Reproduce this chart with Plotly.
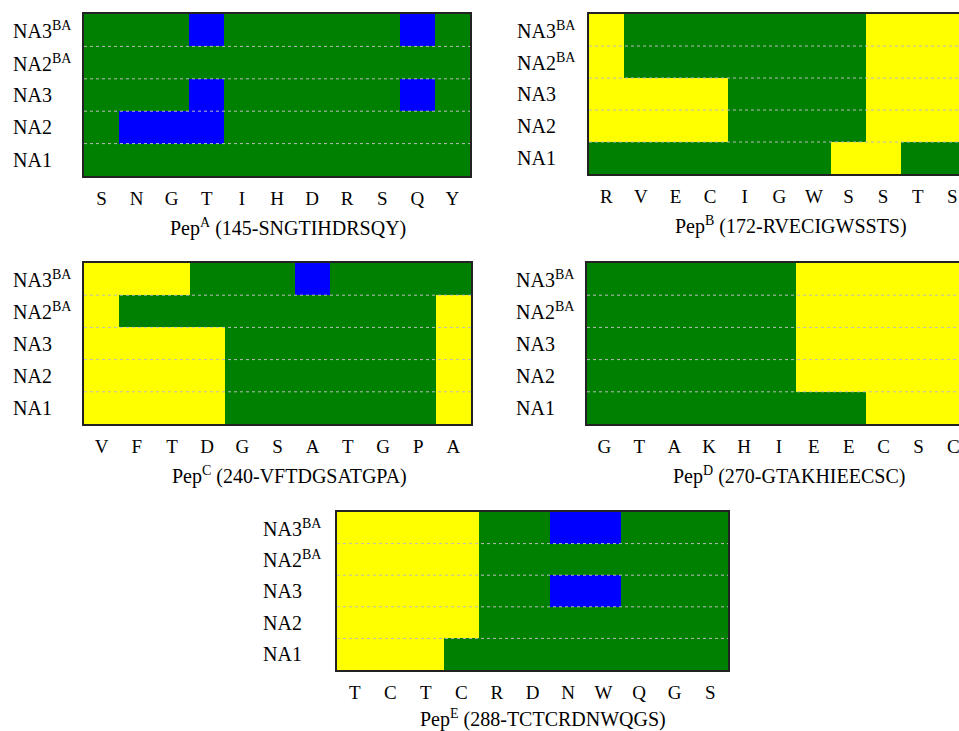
import plotly.graph_objects as go

# ---------------- data ----------------
rows = ["NA1", "NA2", "NA3", "NA2<sup>BA</sup>", "NA3<sup>BA</sup>"]
# codes: 0 = green, 1 = yellow, 2 = blue

pepA_title = "Pep<sup>A</sup> (145-SNGTIHDRSQY)"
pepA_res = ["S", "N", "G", "T", "I", "H", "D", "R", "S", "Q", "Y"]
pepA_NA1 = [0, 0, 0, 0, 0, 0, 0, 0, 0, 0, 0]
pepA_NA2 = [0, 2, 2, 2, 0, 0, 0, 0, 0, 0, 0]
pepA_NA3 = [0, 0, 0, 2, 0, 0, 0, 0, 0, 2, 0]
pepA_NA2BA = [0, 0, 0, 0, 0, 0, 0, 0, 0, 0, 0]
pepA_NA3BA = [0, 0, 0, 2, 0, 0, 0, 0, 0, 2, 0]

pepB_title = "Pep<sup>B</sup> (172-RVECIGWSSTS)"
pepB_res = ["R", "V", "E", "C", "I", "G", "W", "S", "S", "T", "S"]
pepB_NA1 = [0, 0, 0, 0, 0, 0, 0, 1, 1, 0, 0]
pepB_NA2 = [1, 1, 1, 1, 0, 0, 0, 0, 1, 1, 1]
pepB_NA3 = [1, 1, 1, 1, 0, 0, 0, 0, 1, 1, 1]
pepB_NA2BA = [1, 0, 0, 0, 0, 0, 0, 0, 1, 1, 1]
pepB_NA3BA = [1, 0, 0, 0, 0, 0, 0, 0, 1, 1, 1]

pepC_title = "Pep<sup>C</sup> (240-VFTDGSATGPA)"
pepC_res = ["V", "F", "T", "D", "G", "S", "A", "T", "G", "P", "A"]
pepC_NA1 = [1, 1, 1, 1, 0, 0, 0, 0, 0, 0, 1]
pepC_NA2 = [1, 1, 1, 1, 0, 0, 0, 0, 0, 0, 1]
pepC_NA3 = [1, 1, 1, 1, 0, 0, 0, 0, 0, 0, 1]
pepC_NA2BA = [1, 0, 0, 0, 0, 0, 0, 0, 0, 0, 1]
pepC_NA3BA = [1, 1, 1, 0, 0, 0, 2, 0, 0, 0, 0]

pepD_title = "Pep<sup>D</sup> (270-GTAKHIEECSC)"
pepD_res = ["G", "T", "A", "K", "H", "I", "E", "E", "C", "S", "C"]
pepD_NA1 = [0, 0, 0, 0, 0, 0, 0, 0, 1, 1, 1]
pepD_NA2 = [0, 0, 0, 0, 0, 0, 1, 1, 1, 1, 1]
pepD_NA3 = [0, 0, 0, 0, 0, 0, 1, 1, 1, 1, 1]
pepD_NA2BA = [0, 0, 0, 0, 0, 0, 1, 1, 1, 1, 1]
pepD_NA3BA = [0, 0, 0, 0, 0, 0, 1, 1, 1, 1, 1]

pepE_title = "Pep<sup>E</sup> (288-TCTCRDNWQGS)"
pepE_res = ["T", "C", "T", "C", "R", "D", "N", "W", "Q", "G", "S"]
pepE_NA1 = [1, 1, 1, 0, 0, 0, 0, 0, 0, 0, 0]
pepE_NA2 = [1, 1, 1, 1, 0, 0, 0, 0, 0, 0, 0]
pepE_NA3 = [1, 1, 1, 1, 0, 0, 2, 2, 0, 0, 0]
pepE_NA2BA = [1, 1, 1, 1, 0, 0, 0, 0, 0, 0, 0]
pepE_NA3BA = [1, 1, 1, 1, 0, 0, 2, 2, 0, 0, 0]

GREEN, YELLOW, BLUE = "#008000", "#FFFF00", "#0000FF"
FONT = "Liberation Serif, Times New Roman, serif"
W, H = 959, 731

# panel layout in pixels
panels = [
    dict(title=pepA_title, res=pepA_res,
         z=[pepA_NA1, pepA_NA2, pepA_NA3, pepA_NA2BA, pepA_NA3BA],
         l=84, r=470, t=14, b=176, xr=None, lab=11, tcx=288, toff=51),
    dict(title=pepB_title, res=pepB_res,
         z=[pepB_NA1, pepB_NA2, pepB_NA3, pepB_NA2BA, pepB_NA3BA],
         l=589, r=959, t=14, b=174, xr=34.6, lab=515, tcx=791, toff=51),
    dict(title=pepC_title, res=pepC_res,
         z=[pepC_NA1, pepC_NA2, pepC_NA3, pepC_NA2BA, pepC_NA3BA],
         l=84, r=471, t=263, b=424, xr=None, lab=11, tcx=289, toff=51),
    dict(title=pepD_title, res=pepD_res,
         z=[pepD_NA1, pepD_NA2, pepD_NA3, pepD_NA2BA, pepD_NA3BA],
         l=587, r=959, t=263, b=424, xr=34.9, lab=514, tcx=789, toff=51),
    dict(title=pepE_title, res=pepE_res,
         z=[pepE_NA1, pepE_NA2, pepE_NA3, pepE_NA2BA, pepE_NA3BA],
         l=337, r=728, t=512, b=670, xr=None, lab=261, tcx=543, toff=48),
]

colorscale = [[0, GREEN], [0.25, GREEN], [0.25, YELLOW], [0.75, YELLOW],
              [0.75, BLUE], [1, BLUE]]

fig = go.Figure()
layout = dict(width=W, height=H, margin=dict(l=0, r=0, t=0, b=0),
              paper_bgcolor="white", plot_bgcolor="white",
              font=dict(family=FONT, color="black"), showlegend=False)
shapes, annotations = [], []

for i, p in enumerate(panels, start=1):
    sfx = "" if i == 1 else str(i)
    xa, ya = "x" + sfx, "y" + sfx
    ncol = len(p["res"])
    fig.add_trace(go.Heatmap(
        z=p["z"], x=list(range(ncol)), y=list(range(len(rows))),
        colorscale=colorscale, zmin=0, zmax=2, showscale=False,
        xaxis=xa, yaxis=ya, hoverinfo="skip"))
    if p["xr"] is None:
        xrange = [-0.5, ncol - 0.5]
    else:
        xrange = [-0.5, -0.5 + (p["r"] - p["l"]) / p["xr"]]
    clipped = p["xr"] is not None
    layout["xaxis" + sfx] = dict(
        domain=[p["l"] / W, p["r"] / W], anchor=ya, range=xrange,
        tickvals=list(range(ncol)), ticktext=p["res"], ticks="",
        showgrid=False, zeroline=False, showline=True, linecolor="#222",
        linewidth=1.5, mirror=True, ticklabelstandoff=4,
        ticklabeloverflow="allow",
        tickfont=dict(family=FONT, size=19, color="black"), fixedrange=True)
    layout["yaxis" + sfx] = dict(
        domain=[1 - p["b"] / H, 1 - p["t"] / H], anchor=xa,
        range=[-0.5, len(rows) - 0.5], showticklabels=False, ticks="",
        showgrid=False, zeroline=False, showline=True, linecolor="#222",
        linewidth=1.5, mirror=not clipped, fixedrange=True)
    # dotted row separators
    for k in range(len(rows) - 1):
        shapes.append(dict(type="line", xref=xa + " domain", yref=ya,
                           x0=0, x1=1, y0=k + 0.5, y1=k + 0.5, layer="above",
                           line=dict(color="#BDBDBD", width=1, dash="dot")))
    # row labels (left-aligned)
    for k, name in enumerate(rows):
        annotations.append(dict(text=name, xref="paper", yref=ya,
                                x=p["lab"] / W, y=k, xanchor="left",
                                yanchor="middle", showarrow=False,
                                font=dict(family=FONT, size=20, color="black")))
    # panel caption
    annotations.append(dict(text=p["title"], xref="paper", yref="paper",
                            x=p["tcx"] / W, y=1 - (p["b"] + p["toff"]) / H,
                            xanchor="center", yanchor="middle", showarrow=False,
                            font=dict(family=FONT, size=20, color="black")))

layout["shapes"] = shapes
layout["annotations"] = annotations
fig.update_layout(**layout)
fig.write_html("out.html",
               config={"displayModeBar": False},
               post_script="document.body.style.margin='0';"
                           "document.body.style.overflow='hidden';")
